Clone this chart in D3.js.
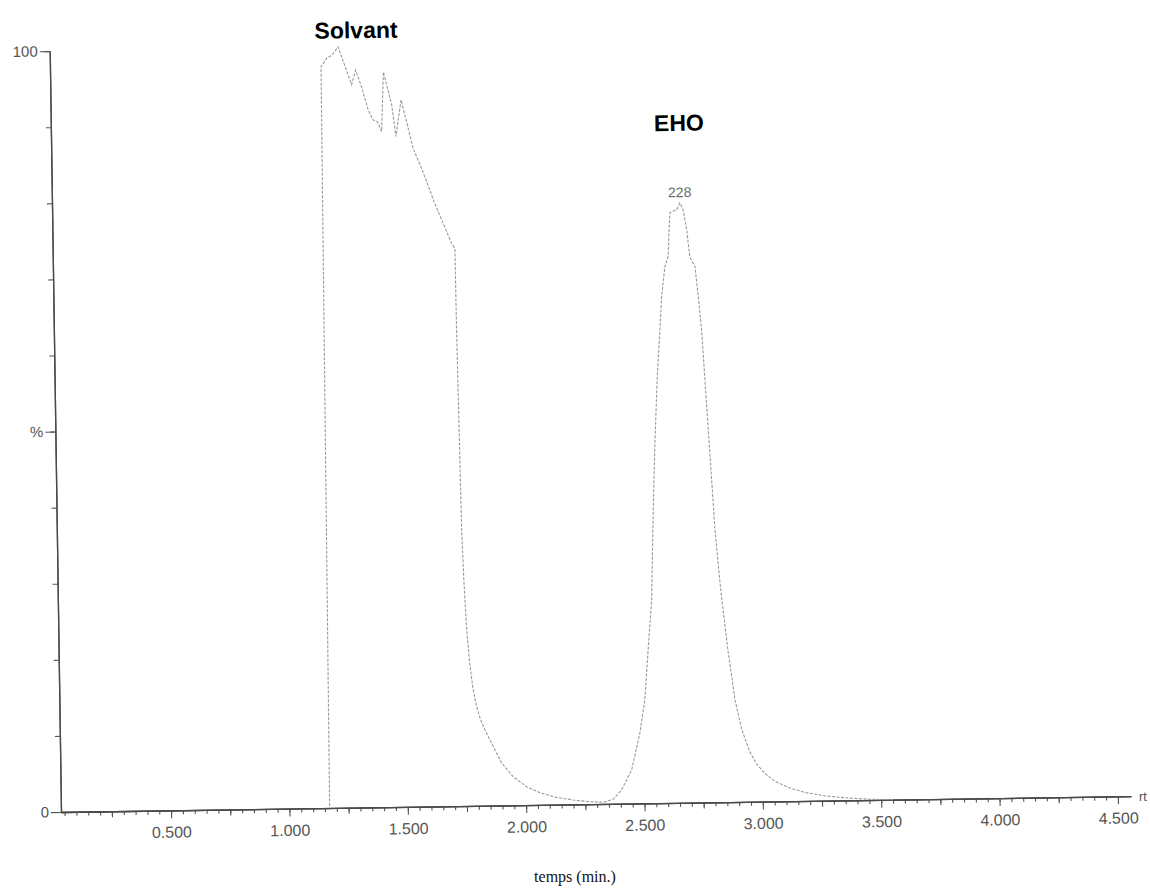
<!DOCTYPE html>
<html><head><meta charset="utf-8">
<script src="https://cdn.jsdelivr.net/npm/d3@7"></script>
<style>body{margin:0;background:#fff}svg{display:block}</style>
</head><body>
<svg id="chart" width="1150" height="893"></svg>
<script>
// retention time (min.)
const timeMin = [1.170, 1.180, 1.206, 1.227, 1.253, 1.308, 1.326, 1.350, 1.377, 1.397, 1.414, 1.432, 1.443, 1.476, 1.492, 1.516, 1.538, 1.564, 1.598, 1.632, 1.646, 1.720, 1.734, 1.736, 1.739, 1.742, 1.745, 1.751, 1.760, 1.770, 1.782, 1.796, 1.812, 1.833, 1.858, 1.899, 1.947, 2.003, 2.059, 2.129, 2.199, 2.270, 2.326, 2.368, 2.404, 2.448, 2.485, 2.508, 2.525, 2.543, 2.555, 2.566, 2.580, 2.595, 2.604, 2.620, 2.634, 2.644, 2.651, 2.673, 2.687, 2.701, 2.714, 2.726, 2.747, 2.759, 2.771, 2.782, 2.793, 2.804, 2.815, 2.832, 2.839, 2.862, 2.889, 2.915, 2.945, 2.975, 3.010, 3.055, 3.110, 3.180, 3.270, 3.360, 3.450, 3.550];
// relative intensity (%)
const intensity = [0.3, 97.4, 98.6, 98.9, 100, 95.0, 96.9, 94.7, 91.6, 90.3, 90.1, 88.8, 96.6, 92.3, 88.1, 92.9, 90.0, 86.5, 83.9, 81.0, 79.7, 74.0, 73.3, 62.6, 53.8, 45.1, 36.3, 29.7, 23.1, 19.0, 15.6, 13.2, 11.4, 9.8, 8.2, 5.6, 3.76, 2.42, 1.60, 0.96, 0.58, 0.32, 0.22, 0.59, 1.8, 4.4, 9.25, 13.6, 20.1, 26.7, 38.1, 46.8, 55.6, 62.2, 66.5, 70.5, 71.8, 77.5, 77.7, 77.9, 78.8, 77.9, 75.3, 71.7, 70.4, 66.5, 62.1, 55.5, 48.9, 42.4, 35.8, 29.2, 26.8, 20.0, 13.4, 9.6, 6.8, 5.0, 3.7, 2.6, 1.8, 1.1, 0.6, 0.3, 0.1, 0.0];

const xMajorTicks = [0.5, 1.0, 1.5, 2.0, 2.5, 3.0, 3.5, 4.0, 4.5];
const xMediumTicks = [0.25, 0.75, 1.25, 1.75, 2.25, 2.75, 3.25, 3.75, 4.25];
const xMinorTicks = d3.range(1, 91).map(i => +(i * 0.05).toFixed(2));
const yTicks = [0, 10, 20, 30, 40, 50, 60, 70, 80, 90, 100];
const yLabelValues = [0, 50, 100];
const yLabelTexts = ["0", "%", "100"];

const annotationTexts = ["Solvant", "EHO"];
const annotationT = [1.33, 2.688];
const annotationV = [101.1, 88.3];
const peakLabel = "228";
const peakT = 2.687;
const peakV = 78.8;

const svg = d3.select("#chart");
const g = svg.append("g").attr("transform", "translate(61,812) rotate(-0.85)");

const x = d3.scaleLinear().domain([0.035, 4.555]).range([0, 1070]);
const y = d3.scaleLinear().domain([0, 100]).range([0, -761]);

const axisColor = "#4a4a4a";
const textColor = "#555";
const font = "Liberation Sans, Arial, sans-serif";

const xMinor = g.append("g").call(d3.axisBottom(x).tickValues(xMinorTicks).tickSize(4).tickSizeOuter(0).tickFormat(""));
const xMed = g.append("g").call(d3.axisBottom(x).tickValues(xMediumTicks).tickSize(6).tickSizeOuter(0).tickFormat(""));
const xMaj = g.append("g").call(d3.axisBottom(x).tickValues(xMajorTicks).tickSize(8).tickSizeOuter(0).tickPadding(8).tickFormat(d3.format(".3f")));
[xMinor, xMed, xMaj].forEach(a => {
  a.selectAll("path").attr("stroke", axisColor).attr("stroke-width", 1.3);
  a.selectAll("line").attr("stroke", "#555").attr("stroke-width", 1.1);
});
xMaj.selectAll("text").attr("fill", textColor).style("font-family", font).style("font-size", "16px");

const yMinor = g.append("g").call(d3.axisLeft(y).tickValues(yTicks).tickSize(5).tickSizeOuter(0).tickFormat(""));
const yMaj = g.append("g").call(d3.axisLeft(y).tickValues(yLabelValues).tickSize(10).tickSizeOuter(0).tickPadding(2)
  .tickFormat(d => yLabelTexts[yLabelValues.indexOf(d)]));
[yMinor, yMaj].forEach(a => {
  a.selectAll("path").attr("stroke", axisColor).attr("stroke-width", 1.3);
  a.selectAll("line").attr("stroke", "#555").attr("stroke-width", 1.1);
});
yMaj.selectAll("text").attr("fill", textColor).style("font-family", font).style("font-size", "15px");

g.append("text").attr("x", x(4.555) + 8).attr("y", 5).text("rt")
  .attr("fill", textColor).style("font-family", font).style("font-size", "13px");

const data = timeMin.map((t, i) => ({t, v: intensity[i]}));
g.append("path").datum(data)
  .attr("fill", "none").attr("stroke", "#999").attr("stroke-width", 1.1)
  .attr("stroke-dasharray", "3,1.5")
  .attr("d", d3.line().x(d => x(d.t)).y(d => y(d.v)));

g.append("text").attr("x", x(peakT)).attr("y", y(peakV) - 6).attr("text-anchor", "middle")
  .text(peakLabel).attr("fill", "#6a6a6a").style("font-family", font).style("font-size", "14px");

annotationTexts.forEach((txt, i) => {
  g.append("text").attr("x", x(annotationT[i])).attr("y", y(annotationV[i])).attr("text-anchor", "middle")
    .text(txt).attr("fill", "#000").style("font-family", font)
    .style("font-size", "23px").style("font-weight", "bold");
});

svg.append("text").attr("x", 575).attr("y", 882).attr("text-anchor", "middle")
  .text("temps (min.)").attr("fill", "#111").style("font-family", "Liberation Serif, Times New Roman, serif").style("font-size", "16px");
</script>
</body></html>
